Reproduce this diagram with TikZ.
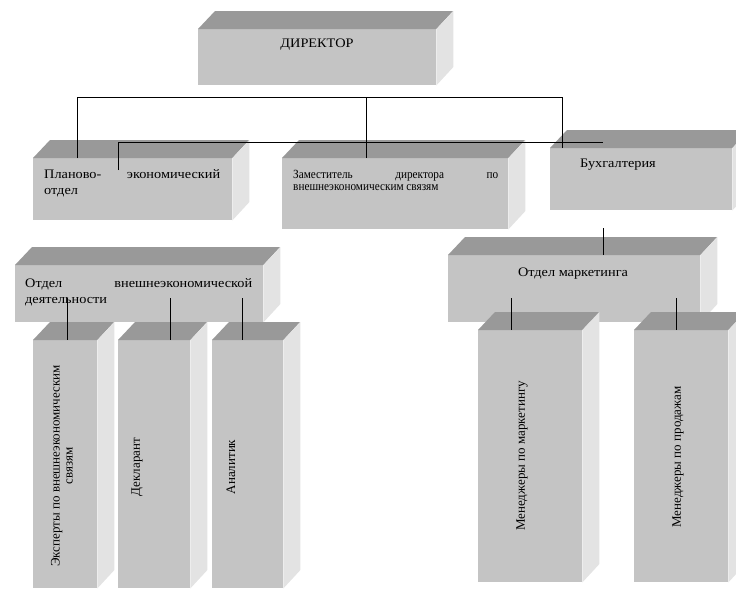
\documentclass[tikz,border=0pt]{standalone}
\usepackage{fontspec}
\setmainfont{Liberation Serif}
\newfontfamily\widefont{Liberation Serif}[FakeStretch=1.1]
\newfontfamily\narrowfont{Liberation Serif}[FakeStretch=0.9]

\definecolor{frontgray}{HTML}{C4C4C4}
\definecolor{topgray}{HTML}{999999}
\definecolor{sidegray}{HTML}{E3E3E3}

\begin{document}
\begin{tikzpicture}[
            x=1pt, y=-1pt,
            front/.style={fill=frontgray, inner sep=0pt, anchor=north west},
            topface/.style={fill=topgray},
            sideface/.style={fill=sidegray},
            boxtext/.style={font=\widefont\fontsize{13}{16}\selectfont, inner sep=0pt},
            uptext/.style={font=\fontsize{13}{13}\selectfont, inner sep=0pt, rotate=90},
            link/.style={draw, line width=0.8pt}
        ]
        \useasboundingbox (0,0) rectangle (736,589);
        \clip (0,0) rectangle (736,589);
        % Blocks: name / left / top / width / height
        \foreach \nodename/\bx/\by/\bw/\bh in {Dir/198/29/238/56, Plan/33/158/199/62,
                Zam/282/158/226/71, Buh/550/148/182/62, Ved/15/265/248/57,
                Mark/448/255/252/67, Exp/33/340/64/248, Decl/118/340/72/248,
                Anal/212/340/71/248, MgrM/478/330/104/252, MgrS/634/330/94/252} {
            \node[front, minimum width=\bw pt, minimum height=\bh pt] (\nodename) at (\bx,\by) {};
            \fill[topface] (\nodename.north west) -- ++(17,-18) -- ++(\bw,0) -- (\nodename.north east) -- cycle;
            \fill[sideface] (\nodename.north east) -- ++(17,-18) -- ++(0,\bh) -- (\nodename.south east) -- cycle;
        }
        % Texts
        \node[boxtext, anchor=base] (DirT) at (317,47) {ДИРЕКТОР};
        \node[boxtext, anchor=base west, text width=176pt, align=justify] (PlanT) at (44,178)
            {Планово- экономический отдел};
        \node[boxtext, anchor=base west, text width=205pt, align=justify,
            font=\narrowfont\fontsize{12.5}{12.5}\selectfont] (ZamT) at (293,178)
            {Заместитель директора по внешнеэкономическим связям};
        \node[boxtext, anchor=base west] (BuhT) at (580,167) {Бухгалтерия};
        \node[boxtext, anchor=base west, text width=227pt, align=justify] (VedT) at (25,287)
            {Отдел внешнеэкономической деятельности};
        \node[boxtext, anchor=base] (MarkT) at (573,276) {Отдел маркетинга};
        \node[uptext, align=center] (ExpT) at (62,466)
            {Эксперты по внешнеэкономическим\\связям};
        \node[uptext] (DeclT) at (137,467) {Декларант};
        \node[uptext] (AnalT) at (231,467) {Аналитик};
        \node[uptext] (MgrMT) at (522,456) {Менеджеры по маркетингу};
        \node[uptext] (MgrST) at (678,457) {Менеджеры по продажам};
        % Connecting lines
        \coordinate (busA) at (77,97);
        \coordinate (busB) at (562,97);
        \coordinate (zamTap) at (366,97);
        \coordinate (planTap) at (118,170);
        \coordinate (busC) at (118,142);
        \coordinate (busD) at (603,142);
        \coordinate (buhTap) at (603,228);
        \draw[link] (busA |- Plan.north) -- (busA) -- (busB) -- (busB |- Buh.north);
        \draw[link] (zamTap) -- (zamTap |- Zam.north);
        \draw[link] (planTap) -- (busC) -- (busD);
        \draw[link] (buhTap) -- (buhTap |- Mark.north);
        \foreach \child/\tapx in {Exp/67, Decl/170, Anal/242, MgrM/511, MgrS/676} {
            \coordinate (tap\child) at (\tapx,298);
            \draw[link] (tap\child) -- (tap\child |- \child.north);
        }
\end{tikzpicture}
\end{document}
